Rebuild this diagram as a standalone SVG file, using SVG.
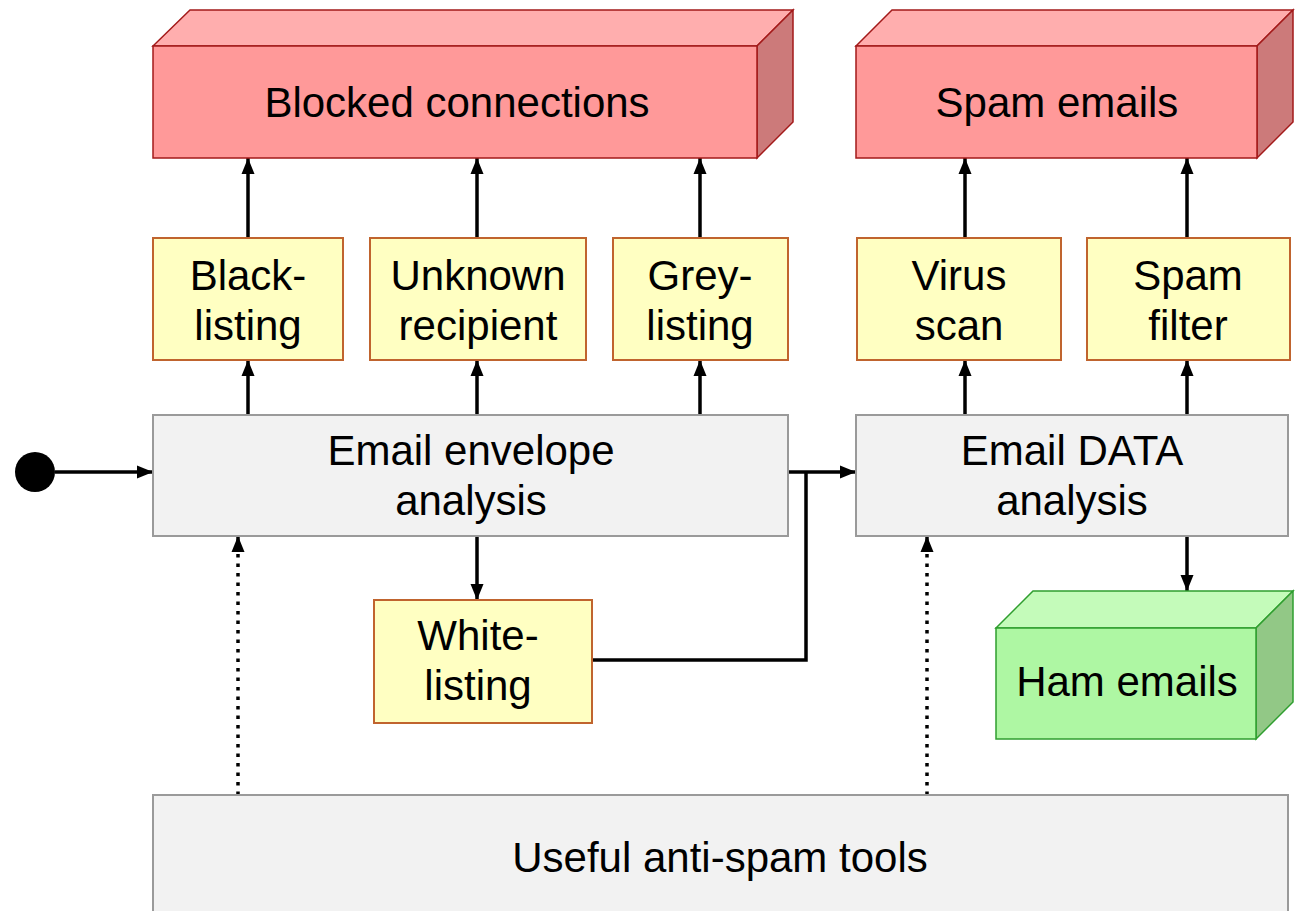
<svg xmlns="http://www.w3.org/2000/svg" width="1300" height="911" viewBox="0 0 1300 911">
  <style>
    .lbl { font-family: "Liberation Sans", Arial, sans-serif; font-size: 42px; fill: #000; text-anchor: middle; }
    .step { fill: #FFFFC2; stroke: #C0642E; stroke-width: 2; }
    .stage { fill: #F2F2F2; stroke: #9A9A9A; stroke-width: 2; }
    .red-front { fill: #FF9999; stroke: #A31A1A; stroke-width: 1.5; }
    .red-top { fill: #FFAEAE; stroke: #A31A1A; stroke-width: 1.5; }
    .red-side { fill: #CC7A7A; stroke: #A31A1A; stroke-width: 1.5; }
    .grn-front { fill: #AEF7A3; stroke: #2F9E2F; stroke-width: 1.5; }
    .grn-top { fill: #C4FBBA; stroke: #2F9E2F; stroke-width: 1.5; }
    .grn-side { fill: #92C886; stroke: #2F9E2F; stroke-width: 1.5; }
    .flow { fill: none; stroke: #000; stroke-width: 3.5; }
    .dep { fill: none; stroke: #000; stroke-width: 3.5; stroke-dasharray: 3.5 6; }
  </style>
  <defs>
    <marker id="arrow" markerUnits="userSpaceOnUse" markerWidth="18" markerHeight="18" viewBox="0 0 18 18" refX="17" refY="9" orient="auto">
      <path d="M1,2.5 L17,9 L1,15.5 Z" fill="#000"/>
    </marker>
  </defs>

  <rect width="1300" height="911" fill="#FFFFFF"/>

  <!-- connectors -->
  <g id="connectors">
    <path class="flow" d="M55,472 H153" marker-end="url(#arrow)"/>
    <path class="flow" d="M248,415 V360" marker-end="url(#arrow)"/>
    <path class="flow" d="M477,415 V360" marker-end="url(#arrow)"/>
    <path class="flow" d="M700,415 V360" marker-end="url(#arrow)"/>
    <path class="flow" d="M248,238 V158" marker-end="url(#arrow)"/>
    <path class="flow" d="M477,238 V158" marker-end="url(#arrow)"/>
    <path class="flow" d="M700,238 V158" marker-end="url(#arrow)"/>
    <path class="flow" d="M965,415 V360" marker-end="url(#arrow)"/>
    <path class="flow" d="M1187,415 V360" marker-end="url(#arrow)"/>
    <path class="flow" d="M965,238 V158" marker-end="url(#arrow)"/>
    <path class="flow" d="M1187,238 V158" marker-end="url(#arrow)"/>
    <path class="flow" d="M477,536 V600" marker-end="url(#arrow)"/>
    <path class="flow" d="M788,472 H856" marker-end="url(#arrow)"/>
    <path class="flow" d="M592,660 H806 V472"/>
    <path class="flow" d="M1187,536 V591" marker-end="url(#arrow)"/>
    <path class="dep" d="M238,795 V550"/>
    <path class="flow" d="M238,552 V536" marker-end="url(#arrow)"/>
    <path class="dep" d="M927,795 V550"/>
    <path class="flow" d="M927,552 V536" marker-end="url(#arrow)"/>
  </g>

  <!-- start point -->
  <g id="start">
    <circle cx="35" cy="472" r="20" fill="#000"/>
  </g>

  <!-- outcome boxes -->
  <g id="blocked-connections">
    <polygon class="red-top" points="153,46 190,10 793,10 757,46"/>
    <polygon class="red-side" points="757,46 793,10 793,122 757,158"/>
    <rect class="red-front" x="153" y="46" width="604" height="112"/>
    <text class="lbl" x="457" y="117">Blocked connections</text>
  </g>

  <g id="spam-emails">
    <polygon class="red-top" points="856,46 892,10 1293,10 1257,46"/>
    <polygon class="red-side" points="1257,46 1293,10 1293,122 1257,158"/>
    <rect class="red-front" x="856" y="46" width="401" height="112"/>
    <text class="lbl" x="1057" y="117">Spam emails</text>
  </g>

  <g id="ham-emails">
    <polygon class="grn-top" points="996,628 1033,591 1293,591 1256,628"/>
    <polygon class="grn-side" points="1256,628 1293,591 1293,702 1256,739"/>
    <rect class="grn-front" x="996" y="628" width="260" height="111"/>
    <text class="lbl" x="1127" y="696">Ham emails</text>
  </g>

  <!-- filter steps -->
  <g id="black-listing">
    <rect class="step" x="153" y="238" width="190" height="122"/>
    <text class="lbl" x="248" y="290">Black-</text>
    <text class="lbl" x="248" y="340">listing</text>
  </g>

  <g id="unknown-recipient">
    <rect class="step" x="370" y="238" width="216" height="122"/>
    <text class="lbl" x="478" y="290">Unknown</text>
    <text class="lbl" x="478" y="340">recipient</text>
  </g>

  <g id="grey-listing">
    <rect class="step" x="613" y="238" width="175" height="122"/>
    <text class="lbl" x="700" y="290">Grey-</text>
    <text class="lbl" x="700" y="340">listing</text>
  </g>

  <g id="virus-scan">
    <rect class="step" x="857" y="238" width="204" height="122"/>
    <text class="lbl" x="959" y="290">Virus</text>
    <text class="lbl" x="959" y="340">scan</text>
  </g>

  <g id="spam-filter">
    <rect class="step" x="1087" y="238" width="203" height="122"/>
    <text class="lbl" x="1188" y="290">Spam</text>
    <text class="lbl" x="1188" y="340">filter</text>
  </g>

  <g id="white-listing">
    <rect class="step" x="374" y="600" width="218" height="123"/>
    <text class="lbl" x="478" y="650">White-</text>
    <text class="lbl" x="478" y="700">listing</text>
  </g>

  <!-- analysis stages -->
  <g id="envelope-analysis">
    <rect class="stage" x="153" y="415" width="635" height="121"/>
    <text class="lbl" x="471" y="465">Email envelope</text>
    <text class="lbl" x="471" y="515">analysis</text>
  </g>

  <g id="data-analysis">
    <rect class="stage" x="856" y="415" width="432" height="121"/>
    <text class="lbl" x="1072" y="465">Email DATA</text>
    <text class="lbl" x="1072" y="515">analysis</text>
  </g>

  <g id="anti-spam-tools">
    <rect class="stage" x="153" y="795" width="1135" height="130"/>
    <text class="lbl" x="720" y="872">Useful anti-spam tools</text>
  </g>
</svg>
